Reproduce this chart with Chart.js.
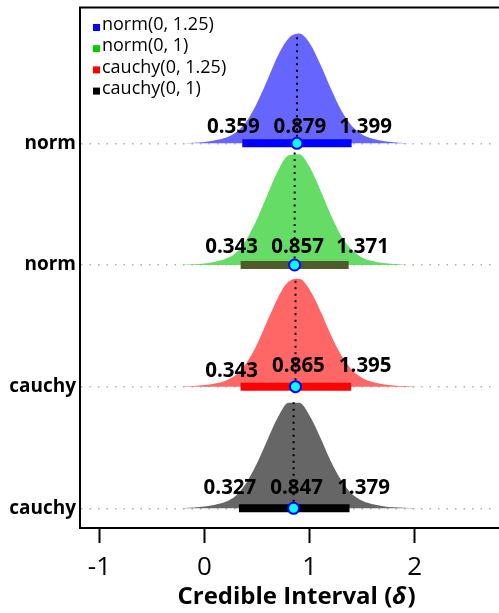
<!DOCTYPE html>
<html>
<head>
<meta charset="utf-8">
<script src="https://cdn.jsdelivr.net/npm/chart.js@4.4.0/dist/chart.umd.min.js"></script>
<style>
  html, body { margin: 0; padding: 0; background: #fff; overflow: hidden; }
  #wrap { width: 499px; height: 613px; }
</style>
</head>
<body>
<div id="wrap"><canvas id="grafico" width="499" height="613"></canvas></div>
<script>
// Priors, top row first
const priorLabels = ["norm(0, 1.25)", "norm(0, 1)", "cauchy(0, 1.25)", "cauchy(0, 1)"];
const rowLabels = ["norm", "norm", "cauchy", "cauchy"];

// Credible interval per prior
const lowerCI = [0.359, 0.343, 0.343, 0.327];
const medianCI = [0.879, 0.857, 0.865, 0.847];
const upperCI = [1.399, 1.371, 1.395, 1.379];

// Posterior density (relative height)
const gridX = [-0.2, -0.1, 0, 0.1, 0.2, 0.3, 0.4, 0.5, 0.6, 0.7, 0.8, 0.9, 1.0, 1.1, 1.2, 1.3, 1.4, 1.5, 1.6, 1.7, 1.8, 1.9, 2.0];
const densNorm125 = [0.002, 0.005, 0.013, 0.028, 0.05, 0.10, 0.20, 0.37, 0.58, 0.80, 0.955, 0.997, 0.91, 0.72, 0.50, 0.30, 0.16, 0.08, 0.042, 0.022, 0.010, 0.004, 0.001];
const densNorm1 = [0.002, 0.006, 0.014, 0.030, 0.055, 0.11, 0.23, 0.41, 0.63, 0.84, 0.975, 0.985, 0.87, 0.67, 0.45, 0.26, 0.135, 0.065, 0.035, 0.017, 0.008, 0.003, 0.001];
const densCauchy125 = [0.003, 0.007, 0.015, 0.030, 0.055, 0.11, 0.22, 0.39, 0.61, 0.82, 0.965, 0.99, 0.89, 0.70, 0.48, 0.29, 0.155, 0.08, 0.042, 0.022, 0.011, 0.005, 0.002];
const densCauchy1 = [0.003, 0.008, 0.017, 0.033, 0.06, 0.12, 0.24, 0.42, 0.64, 0.85, 0.98, 0.98, 0.86, 0.66, 0.44, 0.26, 0.135, 0.07, 0.037, 0.019, 0.009, 0.004, 0.002];
const densities = [densNorm125, densNorm1, densCauchy125, densCauchy1];

const xTicks = [-1, 0, 1, 2];

// Estilos
const fillColors = ["#6666ff", "#65dc65", "#ff6666", "#666666"];
const barColors = ["#0000ff", "#4f5b2a", "#ff0000", "#000000"];
const legendColors = ["#0000ff", "#00cc00", "#ff0000", "#000000"];
const peakHeights = [0.905, 0.925, 0.895, 0.885]; // en unidades de fila
const labelLift = [10, 12, 14.5, 14.5];           // px sobre la base
const labelShift = [-9, 3, 14];                   // px: inferior, mediana, superior
const AREA_RIGHT = 512;                           // el área sigue más allá del borde (recortada)
const FONT = '"Open Sans", "DejaVu Sans", sans-serif';

const nRows = priorLabels.length;
const baseOf = i => nRows - 1 - i;

const datasets = [];
densities.forEach((d, i) => {
  const base = baseOf(i);
  datasets.push({
    type: 'line',
    data: gridX.map((x, k) => ({ x: x, y: base + d[k] * peakHeights[i] })),
    backgroundColor: fillColors[i],
    borderWidth: 0,
    borderColor: 'rgba(0,0,0,0)',
    pointRadius: 0,
    cubicInterpolationMode: 'monotone',
    fill: { value: base },
    order: 4
  });
  datasets.push({
    type: 'line',
    data: [{ x: lowerCI[i], y: base }, { x: upperCI[i], y: base }],
    borderColor: barColors[i],
    borderWidth: 8,
    borderCapStyle: 'butt',
    pointRadius: 0,
    fill: false,
    order: 2
  });
  datasets.push({
    type: 'line',
    data: [{ x: medianCI[i], y: base }, { x: medianCI[i], y: base + peakHeights[i] }],
    borderColor: '#000',
    borderWidth: 2,
    borderDash: [2, 4.5],
    pointRadius: 0,
    fill: false,
    order: 3
  });
});
datasets.push({
  type: 'scatter',
  data: medianCI.map((m, i) => ({ x: m, y: baseOf(i) })),
  pointRadius: 5.5,
  pointBackgroundColor: '#00ffff',
  pointBorderColor: '#0000ff',
  pointBorderWidth: 2,
  order: 1
});

const extras = {
  id: 'extras',
  afterLayout(chart) {
    // estirar el área hacia la derecha, fuera del lienzo
    const area = chart.chartArea;
    area.right = AREA_RIGHT;
    area.width = AREA_RIGHT - area.left;
    const xs = chart.scales.x;
    xs.right = AREA_RIGHT;
    xs.width = AREA_RIGHT - xs.left;
    xs.configure();
  },
  afterDatasetsDraw(chart) {
    const { ctx, chartArea, scales } = chart;
    const xs = scales.x, ys = scales.y;
    ctx.save();
    // limpiar la columna del borde derecho
    ctx.fillStyle = '#fff';
    ctx.fillRect(chart.width - 3, chartArea.top + 2, 3, chartArea.bottom - chartArea.top - 4);

    // marco superior
    ctx.strokeStyle = '#000';
    ctx.lineWidth = 2;
    ctx.beginPath();
    ctx.moveTo(chartArea.left - 1, chartArea.top);
    ctx.lineTo(chartArea.right, chartArea.top);
    ctx.stroke();

    // etiquetas del intervalo
    ctx.fillStyle = '#000';
    ctx.font = 'bold 20.5px ' + FONT;
    ctx.textAlign = 'center';
    ctx.textBaseline = 'alphabetic';
    for (let i = 0; i < nRows; i++) {
      const y = ys.getPixelForValue(baseOf(i)) - labelLift[i];
      const vals = [lowerCI[i], medianCI[i], upperCI[i]];
      vals.forEach((v, k) => {
        let yy = y;
        if (i === 2 && k === 0) yy += 5;
        ctx.fillText(v.toFixed(3), xs.getPixelForValue(v) + labelShift[k], yy);
      });
    }

    // leyenda
    ctx.font = '18px ' + FONT;
    ctx.textAlign = 'left';
    ctx.textBaseline = 'middle';
    priorLabels.forEach((lab, i) => {
      const y = 25 + i * 21.2;
      ctx.fillStyle = legendColors[i];
      ctx.fillRect(93, y - 1, 7, 7);
      ctx.fillStyle = '#000';
      ctx.fillText(lab, 102, y);
    });

    // título del eje x
    const partA = 'Credible Interval (';
    const partB = '\u03b4';
    const partC = ')';
    const fA = 'bold 24px ' + FONT;
    const fB = 'italic bold 24px ' + FONT;
    ctx.font = fA;
    const wA = ctx.measureText(partA).width;
    const wC = ctx.measureText(partC).width;
    ctx.font = fB;
    const wB = ctx.measureText(partB).width;
    let x0 = (chartArea.left + chartArea.right) / 2 - (wA + wB + wC) / 2;
    const ty = 597;
    ctx.textBaseline = 'middle';
    ctx.font = fA; ctx.fillText(partA, x0, ty); x0 += wA;
    ctx.font = fB; ctx.fillText(partB, x0, ty); x0 += wB + 1;
    ctx.font = fA; ctx.fillText(partC, x0, ty);
    ctx.restore();
  }
};

new Chart(document.getElementById('grafico'), {
  type: 'scatter',
  data: { datasets: datasets },
  options: {
    responsive: false,
    animation: false,
    devicePixelRatio: 1,
    layout: { padding: { top: 7, left: 0, right: 0, bottom: 0 } },
    plugins: { legend: { display: false }, tooltip: { enabled: false } },
    scales: {
      x: {
        type: 'linear',
        min: -1.185,
        max: 2.925,
        afterFit: s => { s.height = 85; s.paddingLeft = 0; s.paddingRight = 0; },
        afterBuildTicks: s => { s.ticks = xTicks.map(v => ({ value: v })); },
        ticks: { color: '#000', font: { family: FONT, size: 26 }, padding: 9 },
        grid: { drawOnChartArea: false, drawTicks: true, tickLength: 15, tickWidth: 2, tickColor: '#000' },
        border: { display: true, color: '#000', width: 2 }
      },
      y: {
        type: 'linear',
        min: -0.162,
        max: 4.117,
        afterFit: s => { s.width = 80; s.paddingTop = 0; s.paddingBottom = 0; },
        afterBuildTicks: s => { s.ticks = rowLabels.map((_, i) => ({ value: baseOf(i) })); },
        ticks: {
          color: '#000',
          font: { family: FONT, size: 19, weight: 'bold' },
          padding: 4,
          callback: v => rowLabels[nRows - 1 - v]
        },
        grid: { color: '#b0b0b0', lineWidth: 1.5, drawTicks: false },
        border: { display: true, color: '#000', width: 2, dash: [1.5, 7] }
      }
    }
  },
  plugins: [extras]
});
</script>
</body>
</html>
